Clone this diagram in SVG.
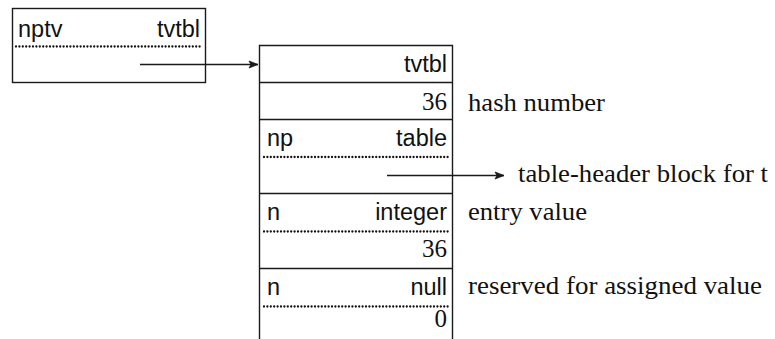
<svg xmlns="http://www.w3.org/2000/svg" width="775" height="339" viewBox="0 0 775 339">
<style>
.box{fill:none;stroke:#1a1a1a;stroke-width:1.4}
.ln{stroke:#1a1a1a;stroke-width:1.4;fill:none}
.dot{stroke:#111;stroke-width:2.3;stroke-dasharray:0 3.4;stroke-linecap:round;fill:none}
.sans{font-family:"Liberation Sans",Arial,sans-serif;font-size:23.5px;fill:#111}
.serif{font-family:"Liberation Serif","Times New Roman",serif;font-size:25px;fill:#111}
.end{text-anchor:end}
</style>
<defs>
<marker id="ah" markerWidth="12" markerHeight="10" refX="10" refY="5" orient="auto" markerUnits="userSpaceOnUse">
<path d="M1,1.5 L10,5 L1,8.5 L3,5 Z" fill="#1a1a1a" stroke="#1a1a1a" stroke-width="0.8"/>
</marker>
</defs>
<g id="nptv-box">
<rect class="box" x="12.5" y="8.5" width="193" height="74"/>
<line class="dot" x1="16" y1="46.5" x2="202" y2="46.5"/>
<text class="sans" x="18" y="37">nptv</text>
<text class="sans end" x="200" y="37">tvtbl</text>
</g>
<g id="block">
<path class="ln" d="M259.5,339 V45.5 H452.5 V339"/>
<line class="ln" x1="259.5" y1="82.5" x2="452.5" y2="82.5"/>
<line class="ln" x1="259.5" y1="119.5" x2="452.5" y2="119.5"/>
<line class="ln" x1="259.5" y1="193.5" x2="452.5" y2="193.5"/>
<line class="ln" x1="259.5" y1="268.5" x2="452.5" y2="268.5"/>
<line class="dot" x1="264" y1="157" x2="449" y2="157"/>
<line class="dot" x1="264" y1="231.5" x2="449" y2="231.5"/>
<line class="dot" x1="264" y1="306.5" x2="449" y2="306.5"/>
<text class="sans end" x="447" y="72">tvtbl</text>
<text class="serif end" x="447" y="110">36</text>
<text class="sans" x="267" y="146">np</text>
<text class="sans end" x="447" y="146">table</text>
<text class="sans" x="267" y="220">n</text>
<text class="sans end" x="447" y="220">integer</text>
<text class="serif end" x="447" y="257">36</text>
<text class="sans" x="267" y="295">n</text>
<text class="sans end" x="447" y="295">null</text>
<text class="serif end" x="447" y="327">0</text>
</g>
<g id="labels">
<text class="serif" x="468" y="110.5" textLength="137" lengthAdjust="spacingAndGlyphs">hash number</text>
<text class="serif" x="518" y="182" textLength="250" lengthAdjust="spacingAndGlyphs">table-header block for t</text>
<text class="serif" x="468" y="220" textLength="119" lengthAdjust="spacingAndGlyphs">entry value</text>
<text class="serif" x="468" y="294" textLength="294" lengthAdjust="spacingAndGlyphs">reserved for assigned value</text>
</g>
<g id="connectors">
<line class="ln" x1="140" y1="64.5" x2="258" y2="64.5" marker-end="url(#ah)"/>
<line class="ln" x1="387" y1="175.5" x2="504" y2="175.5" marker-end="url(#ah)"/>
</g>
</svg>
